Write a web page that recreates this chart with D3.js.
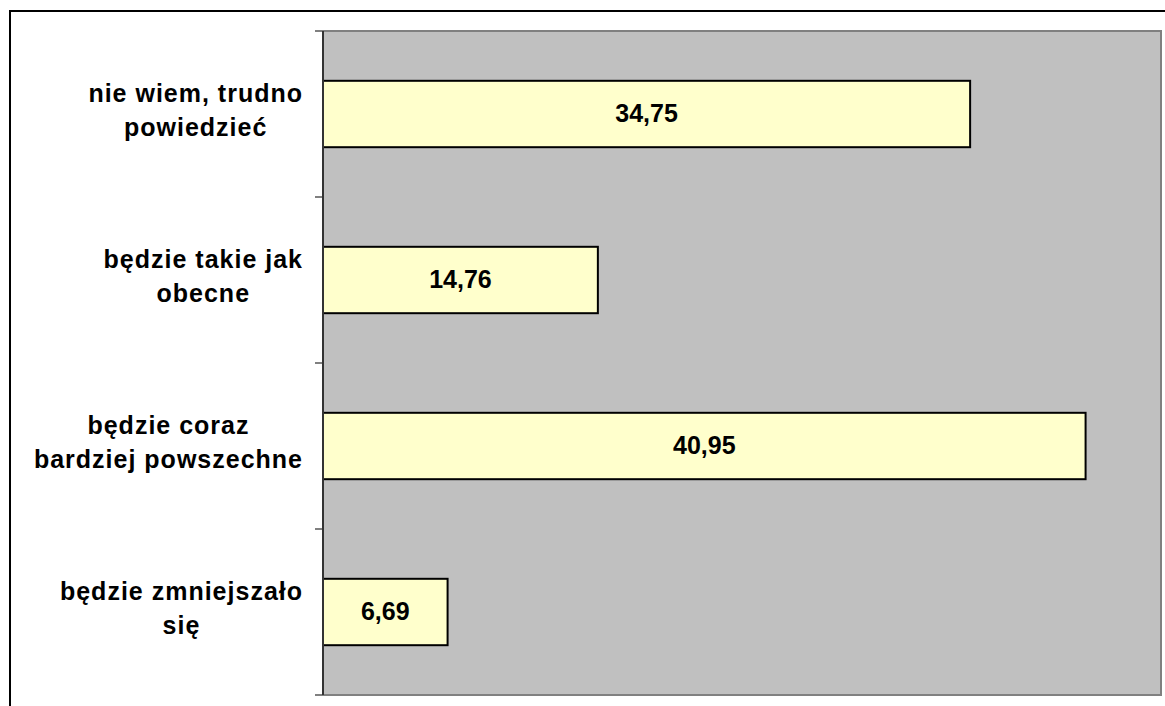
<!DOCTYPE html>
<html>
<head>
<meta charset="utf-8">
<script src="https://cdn.jsdelivr.net/npm/d3@7"></script>
<style>
  html, body { margin: 0; padding: 0; background: #fff; }
  svg { display: block; }
  text { font-family: "Liberation Sans", Arial, sans-serif; font-weight: bold; fill: #000; }
</style>
</head>
<body>
<div id="chart"></div>
<script>
// categories top -> bottom, each label split in lines
var categories = [
    ['nie wiem, trudno', 'powiedzieć'],
    ['będzie takie jak', 'obecne'],
    ['będzie coraz', 'bardziej powszechne'],
    ['będzie zmniejszało', 'się']
];
var values = [34.75, 14.76, 40.95, 6.69];
var valueLabels = ['34,75', '14,76', '40,95', '6,69'];
var xMax = 45;

var width = 1165, height = 706;
var plot = {left: 323, top: 31, right: 1161, bottom: 695};

var svg = d3.select('#chart').append('svg')
    .attr('width', width)
    .attr('height', height);

// outer frame (goes past the right/bottom edge of the picture)
svg.append('rect')
    .attr('x', 10).attr('y', 11)
    .attr('width', 1170).attr('height', 720)
    .attr('fill', 'none')
    .attr('stroke', '#000')
    .attr('stroke-width', 2);

var x = d3.scaleLinear().domain([0, xMax]).range([plot.left, plot.right]);
var y = d3.scaleBand().domain(d3.range(values.length)).range([plot.top, plot.bottom]);

// plot area
svg.append('rect')
    .attr('x', plot.left).attr('y', plot.top)
    .attr('width', plot.right - plot.left).attr('height', plot.bottom - plot.top)
    .attr('fill', '#c0c0c0')
    .attr('stroke', '#808080')
    .attr('stroke-width', 2);

// bars
var barH = y.bandwidth() * 0.4;
var bars = svg.selectAll('.bar').data(values).enter().append('g').attr('class', 'bar');

bars.append('rect')
    .attr('x', x(0))
    .attr('y', function (d, i) { return y(i) + (y.bandwidth() - barH) / 2; })
    .attr('width', function (d) { return x(d) - x(0); })
    .attr('height', barH)
    .attr('fill', '#ffffcc')
    .attr('stroke', '#000')
    .attr('stroke-width', 2);

bars.append('text')
    .attr('x', function (d) { return (x(0) + x(d)) / 2; })
    .attr('y', function (d, i) { return y(i) + y.bandwidth() / 2 + 8; })
    .attr('text-anchor', 'middle')
    .style('font-size', '25px')
    .text(function (d, i) { return valueLabels[i]; });

// ticks between categories
var tickYs = y.domain().map(function (i) { return y(i); }).concat([plot.bottom]);
svg.selectAll('.tick-line').data(tickYs).enter().append('line')
    .attr('class', 'tick-line')
    .attr('x1', plot.left - 8).attr('x2', plot.left)
    .attr('y1', function (d) { return d; })
    .attr('y2', function (d) { return d; })
    .attr('stroke', '#808080')
    .attr('stroke-width', 2);

svg.append('line')
    .attr('x1', plot.left).attr('x2', plot.left)
    .attr('y1', plot.top).attr('y2', plot.bottom)
    .attr('stroke', '#333')
    .attr('stroke-width', 2);

// category labels: centered block, longest line ends at x = 303
var labelRight = 303;
categories.forEach(function (lines, i) {
    var g = svg.append('g');
    var cy = y(i) + y.bandwidth() / 2;
    var texts = g.selectAll('text').data(lines).enter().append('text')
        .attr('y', function (d, j) { return cy - 12 + j * 34; })
        .attr('text-anchor', 'middle')
        .style('font-size', '25px')
        .style('letter-spacing', '1px')
        .text(function (d) { return d; });
    var maxW = d3.max(texts.nodes(), function (n) { return n.getComputedTextLength(); });
    texts.attr('x', labelRight - maxW / 2);
});
</script>
</body>
</html>
